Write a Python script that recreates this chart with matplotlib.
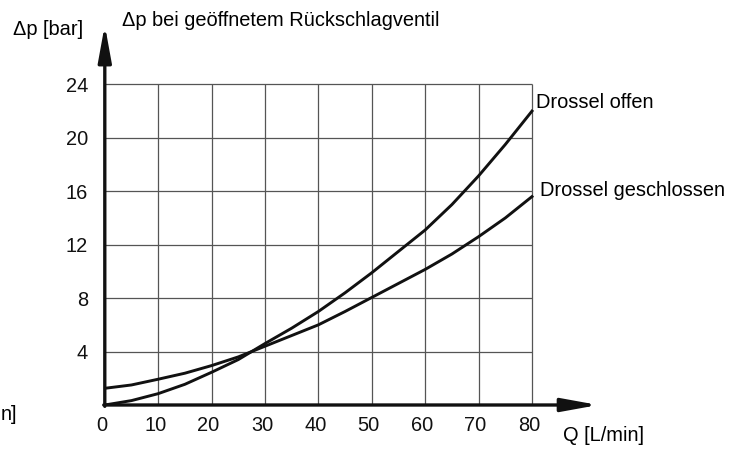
import matplotlib
matplotlib.use("Agg")
import matplotlib.pyplot as plt
from matplotlib.transforms import offset_copy

plt.rcParams["font.family"] = ["Liberation Sans", "DejaVu Sans"]

# data
q = [0, 5, 10, 15, 20, 25, 30, 35, 40, 45, 50, 55, 60, 65, 70, 75, 80]
dp_offen = [0.0, 0.33, 0.85, 1.55, 2.45, 3.4, 4.6, 5.75, 7.0, 8.4, 9.9,
            11.5, 13.1, 15.0, 17.15, 19.5, 22.0]
dp_geschlossen = [1.25, 1.5, 1.93, 2.38, 2.95, 3.6, 4.4, 5.2, 6.0, 7.0, 8.05,
                  9.1, 10.15, 11.3, 12.6, 14.0, 15.6]

x_ticks = [0, 10, 20, 30, 40, 50, 60, 70, 80]
y_ticks = [4, 8, 12, 16, 20, 24]

fs = 14.4
W, H = 741, 450
fig = plt.figure(figsize=(W / 100, H / 100), dpi=100)
ax = fig.add_axes([104.8 / W, 45 / H, 507.3 / W, 400.8 / H])
ax.set_xlim(0, 95)
ax.set_ylim(0, 30)
for s in ax.spines.values():
    s.set_visible(False)

# grid
ax.vlines(x_ticks[1:], 0, y_ticks[-1], color="#555555", lw=0.9, zorder=1)
ax.hlines(y_ticks, 0, x_ticks[-1], color="#555555", lw=0.9, zorder=1)

# curves
ax.plot(q, dp_offen, color="#111111", lw=2.1, solid_joinstyle="round", zorder=3)
ax.plot(q, dp_geschlossen, color="#111111", lw=2.1, solid_joinstyle="round", zorder=3)

# axes with arrows
arrow = dict(arrowstyle="-|>,head_length=1.1,head_width=0.2", lw=2.4,
             color="#111111", shrinkA=0, shrinkB=0, mutation_scale=20)
ax.annotate("", xy=(92.4, 0), xytext=(-0.2, 0), arrowprops=arrow,
            annotation_clip=False, zorder=4)
ax.annotate("", xy=(0, 28.45), xytext=(0, -0.1), arrowprops=arrow,
            annotation_clip=False, zorder=4)

# ticks
ax.set_xticks(x_ticks)
ax.set_xticklabels([str(v) for v in x_ticks])
ax.set_yticks(y_ticks)
ax.set_yticklabels([str(v) for v in y_ticks])
ax.tick_params(axis="both", length=0, labelsize=fs, labelcolor="#111111")
ax.tick_params(axis="x", pad=8)
ax.tick_params(axis="y", pad=12)
for lab in ax.get_xticklabels():
    lab.set_transform(offset_copy(lab.get_transform(), fig=fig, x=-3, y=0, units="dots"))

# curve labels
ax.text(80.75, 22.2, "Drossel offen", fontsize=fs, ha="left", va="baseline")
ax.text(81.5, 15.64, "Drossel geschlossen", fontsize=fs, ha="left", va="baseline")

# axis titles
fig.text(13 / W, 1 - 35 / H, "Δp [bar]", fontsize=fs, ha="left", va="baseline")
fig.text(121.5 / W, 1 - 26 / H, "Δp bei geöffnetem Rückschlagventil",
         fontsize=fs, ha="left", va="baseline")
fig.text(563 / W, 1 - 441 / H, "Q [L/min]", fontsize=fs, ha="left", va="baseline")
fig.text(1 / W, 1 - 420 / H, "n]", fontsize=fs, ha="left", va="baseline")

fig.savefig("out.png", dpi=100, facecolor="white")
